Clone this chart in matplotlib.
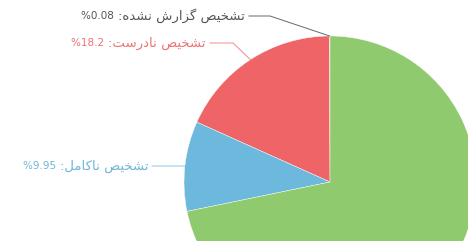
import matplotlib
matplotlib.use("Agg")
import matplotlib.pyplot as plt
import numpy as np

# slice data (counterclockwise from the top)
labels = ["تشخیص گزارش نشده", "تشخیص نادرست", "تشخیص ناکامل", "تشخیص درست"]
values = [0.08, 18.2, 9.95, 71.77]
colors = ["#9a9a9a", "#ef6466", "#6cb9dd", "#8fca6e"]
text_colors = ["#555555", "#ee7274", "#6fb5d8", "#8fca6e"]
line_colors = ["#5f6b70", "#f08a8c", "#8cc6e2", "#8fca6e"]

# presentation forms: isolated, final, initial, medial
FORMS = {
    'ا': (0xFE8D, 0xFE8E), 'د': (0xFEA9, 0xFEAA), 'ر': (0xFEAD, 0xFEAE),
    'ز': (0xFEAF, 0xFEB0),
    'ت': (0xFE95, 0xFE96, 0xFE97, 0xFE98), 'ش': (0xFEB5, 0xFEB6, 0xFEB7, 0xFEB8),
    'خ': (0xFEA5, 0xFEA6, 0xFEA7, 0xFEA8), 'ی': (0xFBFC, 0xFBFD, 0xFBFE, 0xFBFF),
    'ص': (0xFEB9, 0xFEBA, 0xFEBB, 0xFEBC), 'گ': (0xFB92, 0xFB93, 0xFB94, 0xFB95),
    'ن': (0xFEE5, 0xFEE6, 0xFEE7, 0xFEE8), 'ه': (0xFEE9, 0xFEEA, 0xFEEB, 0xFEEC),
    'س': (0xFEB1, 0xFEB2, 0xFEB3, 0xFEB4), 'ک': (0xFB8E, 0xFB8F, 0xFB90, 0xFB91),
    'م': (0xFEE1, 0xFEE2, 0xFEE3, 0xFEE4), 'ل': (0xFEDD, 0xFEDE, 0xFEDF, 0xFEE0),
}

def shape(s):
    # join letters and return them in visual (left to right) order
    out = []
    for i, c in enumerate(s):
        if c not in FORMS:
            out.append(c)
            continue
        prev = s[i-1] if i > 0 else ''
        nxt = s[i+1] if i < len(s)-1 else ''
        jp = prev in FORMS and len(FORMS[prev]) == 4
        jn = nxt in FORMS and len(FORMS[c]) == 4
        f = FORMS[c]
        if jp and jn:
            out.append(chr(f[3]))
        elif jp:
            out.append(chr(f[1]))
        elif jn:
            out.append(chr(f[2]))
        else:
            out.append(chr(f[0]))
    return ''.join(out)[::-1]

W, H = 468, 241
fig = plt.figure(figsize=(W/100, H/100), dpi=100)
ax = fig.add_axes([0, 0, 1, 1])

cx, cy, r = 330, 59, 146
wedges, _ = ax.pie(values, colors=colors, startangle=90, counterclock=True,
                   center=(cx, cy), radius=r,
                   wedgeprops=dict(edgecolor="white", linewidth=0.3))
ax.set_xlim(0, W)
ax.set_ylim(0, H)
ax.set_aspect("equal")
ax.axis("off")

renderer = fig.canvas.get_renderer()

# elbow points and where the horizontal leader stops
elbows = [(270, 225), (233, 198), (183, 75)]
ends = [249, 210, 152]
texts_x = [245, 206, 149]
for i in range(3):
    w = wedges[i]
    ang = np.deg2rad((w.theta1 + w.theta2) / 2)
    px = cx + r*np.cos(ang)
    py = cy + r*np.sin(ang)
    ex, ey = elbows[i]
    ax.plot([px, ex, ends[i]], [py, ey, ey], color=line_colors[i], lw=0.7)
    t = ax.text(texts_x[i], ey, ":" + shape(labels[i]), ha="right", va="center",
                fontsize=9.5, color=text_colors[i], family=["DejaVu Sans"])
    bb = t.get_window_extent(renderer)
    ax.text(bb.x0 - 1, ey, "%" + ("%g" % values[i]) + " ", ha="right", va="center",
            fontsize=7.5, color=text_colors[i], family=["DejaVu Sans"])

fig.savefig("out.png", dpi=100)
